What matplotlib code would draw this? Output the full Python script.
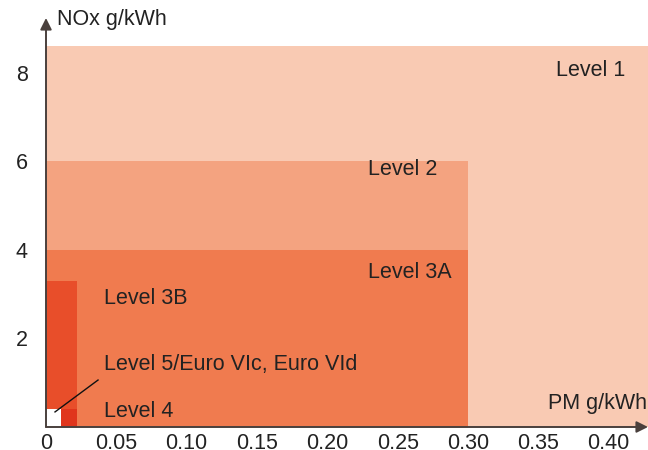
import matplotlib
matplotlib.use("Agg")
import matplotlib.pyplot as plt

plt.rcParams['font.family'] = ['Liberation Sans', 'DejaVu Sans']

# emission limits, drawn from largest to smallest
levels = ['Level 1', 'Level 2', 'Level 3A', 'Level 3B', 'Level 4', 'Level 5']
pm_limit = [0.45, 0.30, 0.30, 0.022, 0.022, 0.011]
nox_limit = [8.6, 6.0, 4.0, 3.3, 0.4, 0.4]
colors = ['#f9cab3', '#f4a380', '#f07b4f', '#e84e2a', '#e0351c', '#ffffff']

x_ticks = [0, 0.05, 0.10, 0.15, 0.20, 0.25, 0.30, 0.35, 0.40]
x_labels = ['0', '0.05', '0.10', '0.15', '0.20', '0.25', '0.30', '0.35', '0.40']
y_ticks = [2, 4, 6, 8]

TXT = '#222222'
AX = '#4a403d'

fig = plt.figure(figsize=(6.48, 4.5), dpi=100)
ax = fig.add_axes([46 / 648, 23 / 450, 602 / 648, 409 / 450])

for pm, nox, c in zip(pm_limit, nox_limit, colors):
    ax.bar(0, nox, width=pm, align='edge', color=c, linewidth=0)

ax.set_xlim(0, 0.428)
ax.set_ylim(0, 9.23)

ax.set_xticks(x_ticks)
ax.set_xticklabels(x_labels)
ax.set_yticks(y_ticks)
ax.tick_params(length=0, labelsize=15.5, colors=TXT)
ax.tick_params(axis='y', pad=13)
ax.tick_params(axis='x', pad=4)
for s in ax.spines.values():
    s.set_visible(False)

# axis lines with arrow heads
for end in [(0, 1), (1, 0)]:
    ax.annotate('', xy=end, xytext=(0, 0), xycoords='axes fraction',
                arrowprops=dict(arrowstyle='-|>', color=AX, lw=1.4,
                                mutation_scale=17, shrinkA=0, shrinkB=0),
                annotation_clip=False)

fs = 15.5
ax.text(0.008, 9.2, 'NOx g/kWh', fontsize=fs, color=TXT, va='center', clip_on=False)
ax.text(0.427, 0.54, 'PM g/kWh', fontsize=fs, color=TXT, va='center', ha='right')
ax.text(0.412, 8.04, 'Level 1', fontsize=fs, color=TXT, va='center', ha='right')
ax.text(0.229, 5.80, 'Level 2', fontsize=fs, color=TXT, va='center')
ax.text(0.229, 3.48, 'Level 3A', fontsize=fs, color=TXT, va='center')
ax.text(0.041, 2.91, 'Level 3B', fontsize=fs, color=TXT, va='center')
ax.text(0.041, 1.40, 'Level 5/Euro VIc, Euro VId', fontsize=fs, color=TXT, va='center')
ax.text(0.041, 0.34, 'Level 4', fontsize=fs, color=TXT, va='center')
ax.plot([0.037, 0.0064], [1.06, 0.34], color='#111111', lw=1)

fig.savefig('out.png', dpi=100)
